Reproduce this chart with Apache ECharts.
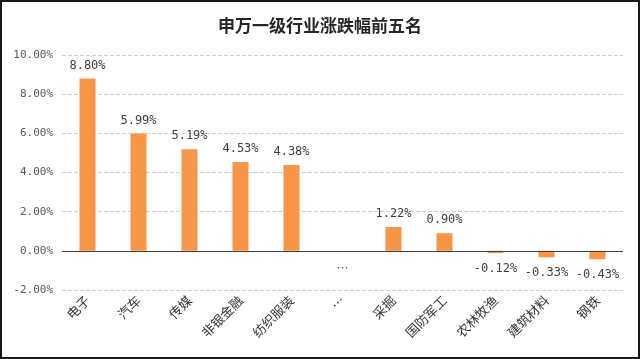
<!DOCTYPE html>
<html><head><meta charset="utf-8">
<script src="https://cdn.jsdelivr.net/npm/echarts@6/dist/echarts.min.js"></script>
<style>
html,body{margin:0;padding:0;background:#fff;}
#c{width:640px;height:359px;box-sizing:border-box;border:2px solid #1a1a1a;}
</style></head>
<body><div id="c"></div>
<script>
const titleText = '申万一级行业涨跌幅前五名';
const categories = ['电子','汽车','传媒','非银金融','纺织服装','…','采掘','国防军工','农林牧渔','建筑材料','钢铁'];
const values = [8.80, 5.99, 5.19, 4.53, 4.38, 0, 1.22, 0.90, -0.12, -0.33, -0.43];
const yTicks = {min: -2, max: 10, interval: 2};

const chart = echarts.init(document.getElementById('c'));
const mono = 'DejaVu Sans Mono';
const seriesData = values.map((v, i) => {
  if (categories[i] === '…') {
    return {value: 0, itemStyle: {color: 'transparent'}, label: {position: 'bottom', distance: 12, formatter: '…', fontFamily: 'Noto Sans CJK SC', fontSize: 12}};
  }
  if (v < 0) return {value: v, label: {position: 'bottom', distance: 10}};
  return {value: v};
});
chart.setOption({
  animation: false,
  title: {text: titleText, left: 'center', top: 10,
    textStyle: {fontFamily: 'Noto Sans CJK SC', fontSize: 17, fontWeight: 'bold', color: '#262626'}},
  grid: {left: 60, right: 15, top: 53, bottom: 67},
  xAxis: {type: 'category', data: categories,
    axisLine: {show: false}, axisTick: {show: false},
    axisLabel: {rotate: 45, interval: 0, margin: 8, color: '#333', fontSize: 13, fontFamily: 'Noto Sans CJK SC'}},
  yAxis: {type: 'value', min: yTicks.min, max: yTicks.max, interval: yTicks.interval,
    axisLine: {show: false}, axisTick: {show: false},
    axisLabel: {formatter: v => v.toFixed(2) + '%', color: '#595959', fontSize: 11, fontFamily: mono, margin: 9},
    splitLine: {lineStyle: {type: 'dashed', color: '#d0d0d0'}}},
  series: [{
    type: 'bar', data: seriesData, barWidth: 16,
    itemStyle: {color: '#F79646'},
    label: {show: true, position: 'top', distance: 7, color: '#404040', fontSize: 12, fontFamily: mono,
      formatter: p => (categories[p.dataIndex] === '…') ? '…' : p.value.toFixed(2) + '%'},
    markLine: {silent: true, symbol: 'none', label: {show: false},
      lineStyle: {type: 'solid', color: '#404040', width: 1},
      data: [{yAxis: 0}]}
  }]
});
</script></body></html>
